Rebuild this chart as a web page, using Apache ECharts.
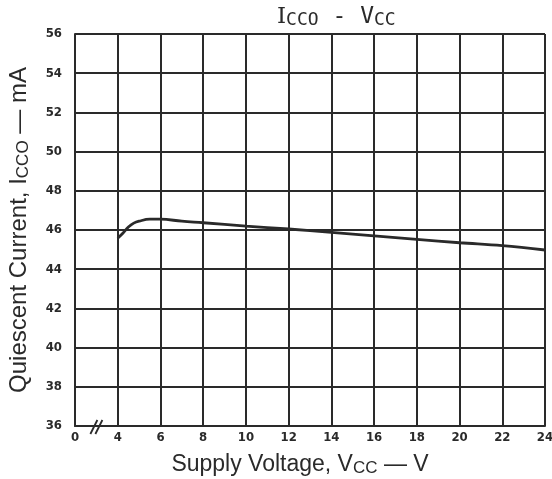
<!DOCTYPE html>
<html>
<head>
<meta charset="utf-8">
<script src="https://cdn.jsdelivr.net/npm/echarts@6/dist/echarts.min.js"></script>
<style>
  html, body { margin: 0; padding: 0; background: #fff; }
  #chart { width: 552px; height: 479px; }
</style>
</head>
<body>
<div id="chart"></div>
<script>
// Supply voltage (V) and quiescent current (mA) along the curve
const vcc = [4, 4.25, 4.5, 4.75, 5, 5.5, 6, 7, 8, 10, 12, 14, 16, 18, 20, 22, 24];
const icco = [45.58, 45.85, 46.15, 46.35, 46.45, 46.55, 46.55, 46.45, 46.37, 46.2, 46.05, 45.88, 45.7, 45.52, 45.35, 45.2, 44.98];

// Axis ranges; the first x interval is a broken span labelled 0
const xTicks = [2, 4, 6, 8, 10, 12, 14, 16, 18, 20, 22, 24];
const xTickLabels = ['0', '4', '6', '8', '10', '12', '14', '16', '18', '20', '22', '24'];
const yMin = 36, yMax = 56, yStep = 2;
const breakAt = 3;

const ink = '#2a2a2a';
const tickFont = { fontFamily: 'DejaVu Sans Condensed', fontWeight: 'bold', fontSize: 13, color: ink };

const chart = echarts.init(document.getElementById('chart'));
chart.setOption({
  backgroundColor: '#fff',
  animation: false,
  title: {
    text: '{i|I}{s|CCO}{a| - V}{s|CC}',
    left: 272,
    top: 1,
    textStyle: {
      rich: {
        i: { fontFamily: 'DejaVu Serif', fontSize: 23, fontWeight: 'normal', color: ink },
        a: { fontFamily: 'DejaVu Sans Mono', fontSize: 23, fontWeight: 'normal', color: ink },
        s: { fontFamily: 'DejaVu Sans Mono', fontSize: 18, fontWeight: 'normal', color: ink, padding: [5, 0, 0, 0] }
      }
    }
  },
  grid: { left: 75, right: 7, top: 34, bottom: 53, outerBoundsMode: 'none', containLabel: false },
  xAxis: {
    type: 'value',
    min: xTicks[0],
    max: xTicks[xTicks.length - 1],
    interval: 2,
    name: '{a|Supply Voltage, V}{s|CC}{a| — V}',
    nameLocation: 'middle',
    nameGap: 27,
    nameTextStyle: {
      padding: [0, 20, 0, 0],
      rich: {
        a: { fontFamily: 'Liberation Sans', fontSize: 23, color: ink },
        s: { fontFamily: 'Liberation Sans', fontSize: 17, color: ink, padding: [7, 0, 0, 0] }
      }
    },
    axisLine: { lineStyle: { color: ink, width: 2 } },
    axisTick: { show: false },
    axisLabel: {
      ...tickFont,
      margin: 5,
      formatter: v => xTickLabels[xTicks.indexOf(v)] ?? ''
    },
    splitLine: { show: true, lineStyle: { color: ink, width: 2 } }
  },
  yAxis: {
    type: 'value',
    min: yMin,
    max: yMax,
    interval: yStep,
    name: '{a|Quiescent Current, I}{s|CCO}{a| — mA}',
    nameLocation: 'middle',
    nameGap: 43,
    nameTextStyle: {
      rich: {
        a: { fontFamily: 'Liberation Sans', fontSize: 24, color: ink },
        s: { fontFamily: 'Liberation Sans', fontSize: 17, color: ink, padding: [9, 0, 0, 0] }
      }
    },
    axisLine: { show: true, lineStyle: { color: ink, width: 2 } },
    axisTick: { show: false },
    axisLabel: { ...tickFont, margin: 13 },
    splitLine: { show: true, lineStyle: { color: ink, width: 2 } }
  },
  series: [{
    type: 'line',
    data: vcc.map((v, i) => [v, icco[i]]),
    smooth: 0.4,
    showSymbol: false,
    lineStyle: { color: ink, width: 2.8 },
    z: 5
  }]
});

// Axis-break mark on the bottom axis
function drawBreak() {
  const [bx, by] = chart.convertToPixel({ xAxisIndex: 0, yAxisIndex: 0 }, [breakAt, yMin]);
  chart.setOption({
    graphic: [{
      type: 'group',
      z: 100,
      children: [
        { type: 'rect', shape: { x: bx - 4, y: by - 3, width: 8, height: 6 }, style: { fill: '#fff' } },
        { type: 'line', shape: { x1: bx - 6, y1: by + 8, x2: bx + 1, y2: by - 6 }, style: { stroke: ink, lineWidth: 1.8 } },
        { type: 'line', shape: { x1: bx - 1, y1: by + 8, x2: bx + 6, y2: by - 6 }, style: { stroke: ink, lineWidth: 1.8 } }
      ]
    }]
  });
}
drawBreak();
</script>
</body>
</html>
